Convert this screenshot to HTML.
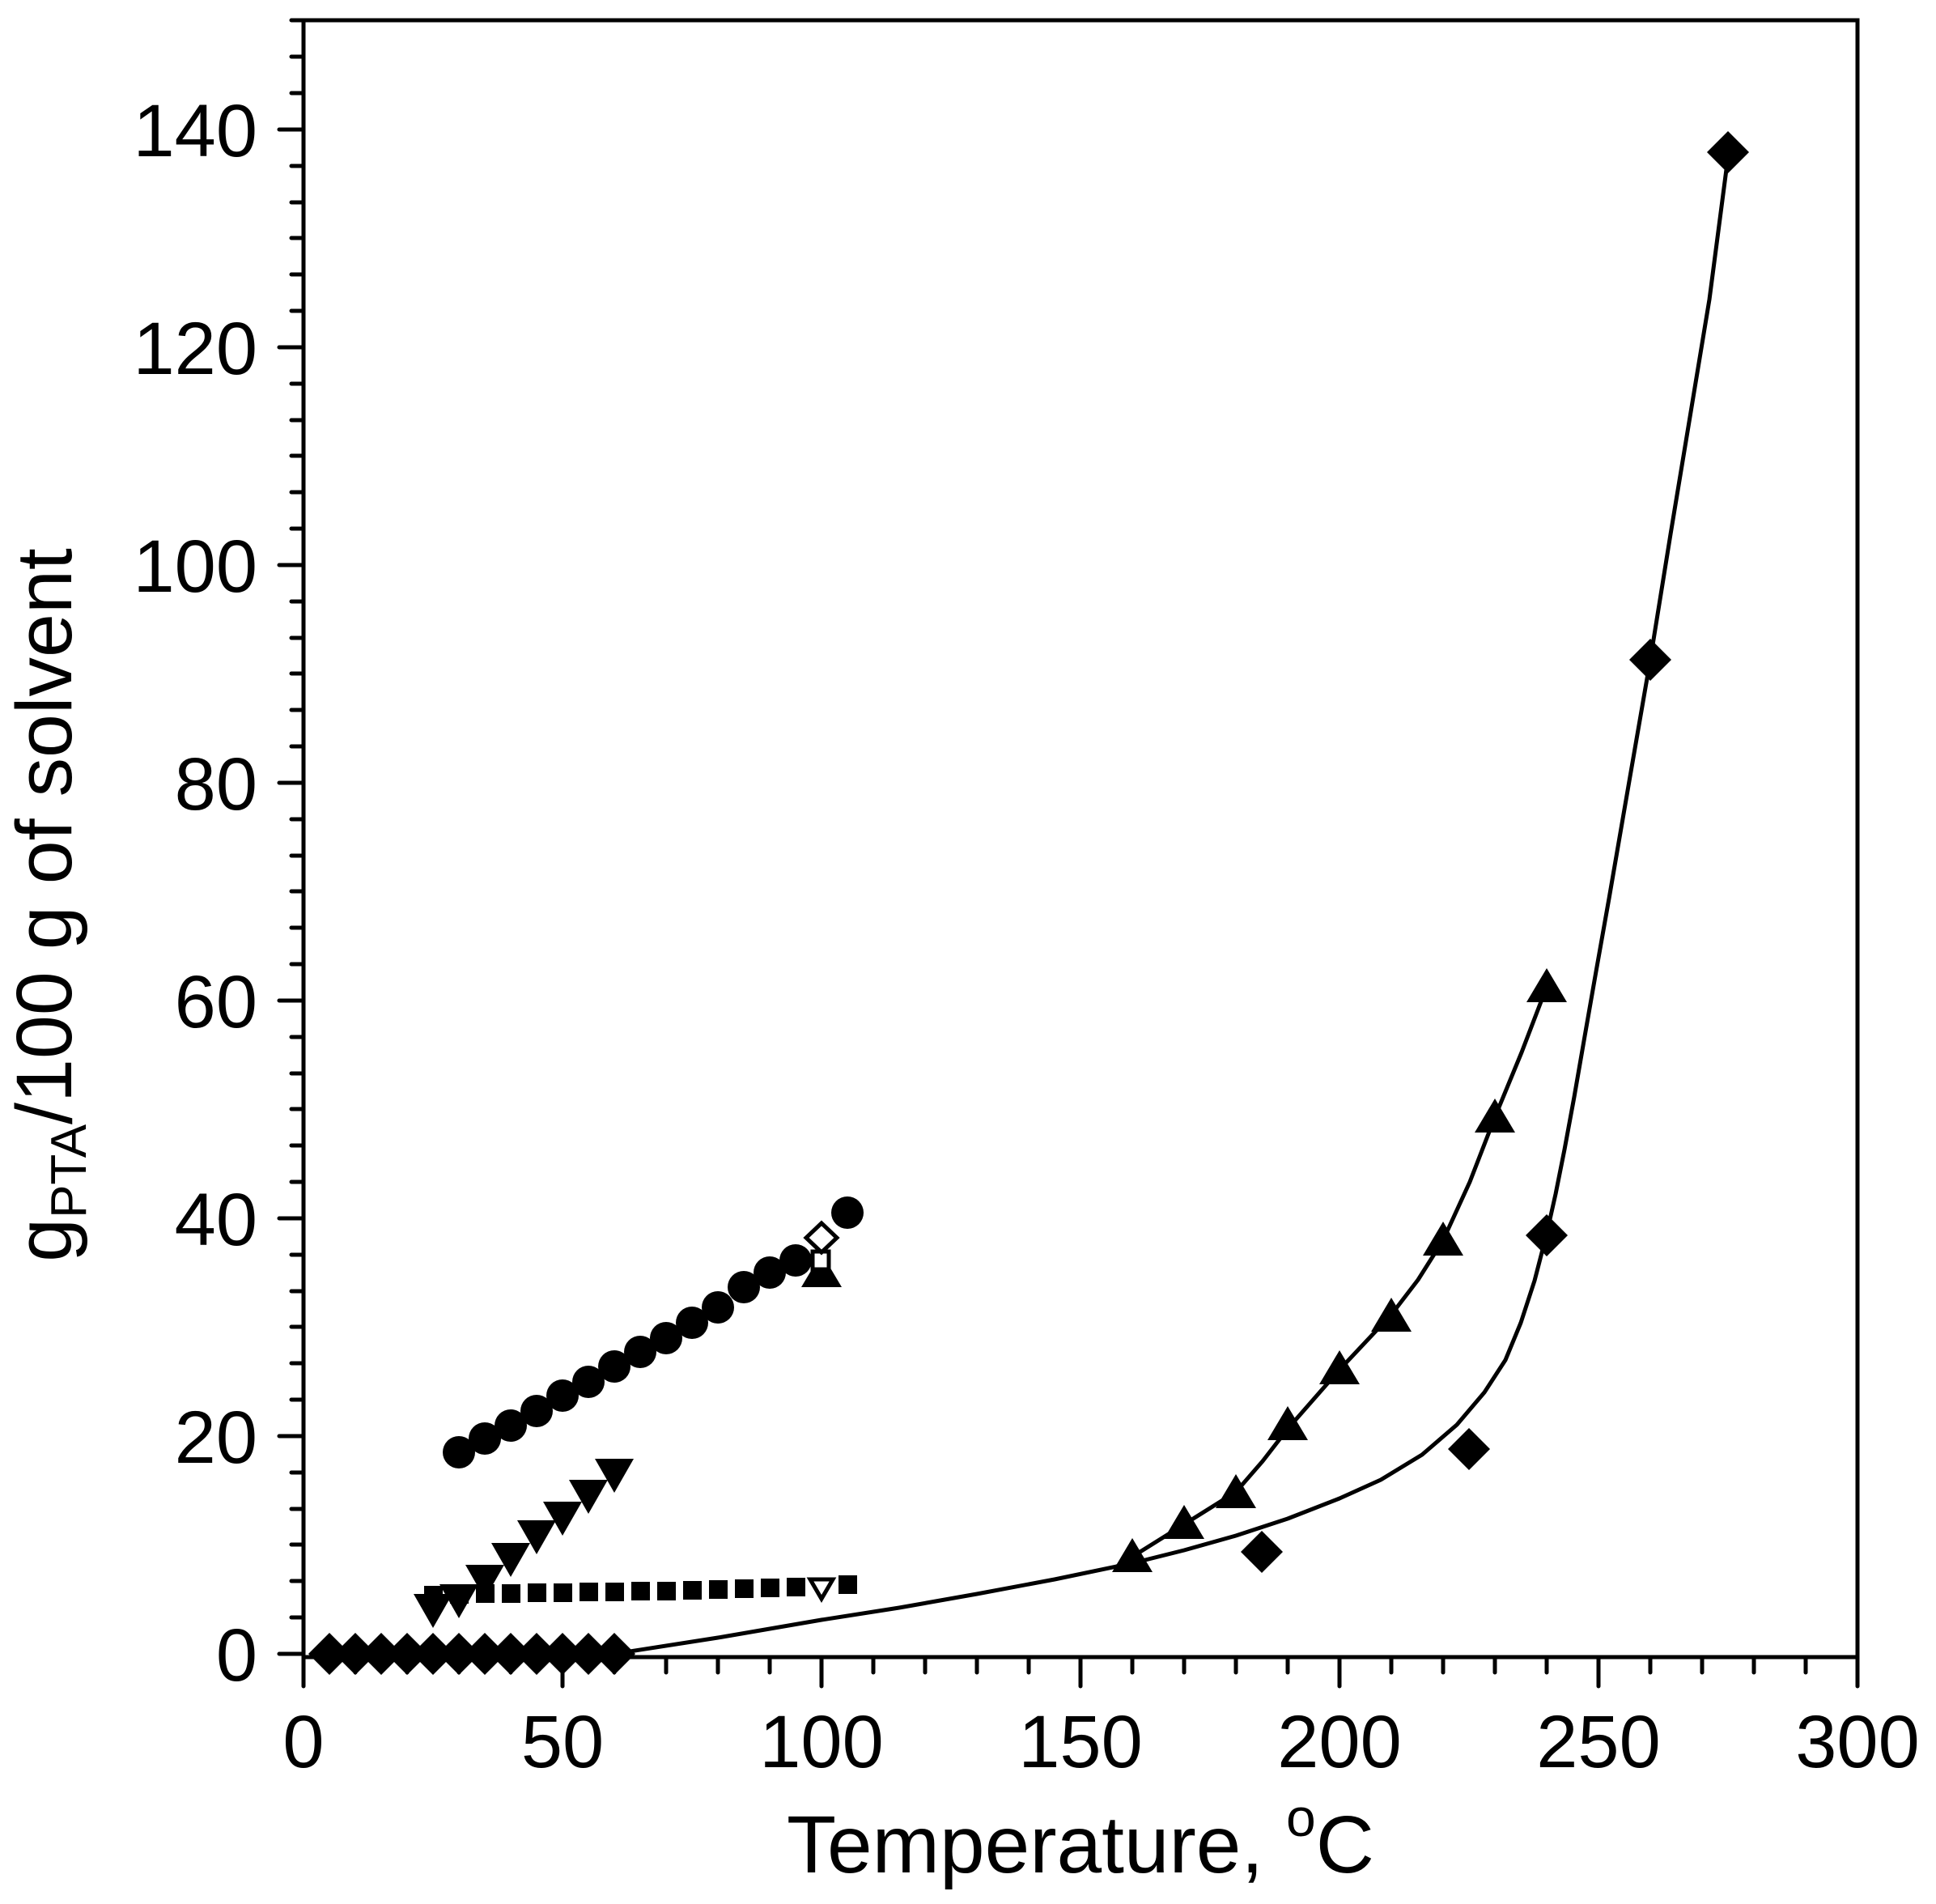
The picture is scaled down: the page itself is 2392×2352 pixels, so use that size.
<!DOCTYPE html>
<html><head><meta charset="utf-8"><style>html,body{margin:0;padding:0;background:#fff}svg{display:block}</style></head>
<body>
<svg width="2392" height="2352" viewBox="0 0 2392 2352" xmlns="http://www.w3.org/2000/svg" font-family="Liberation Sans, Arial, sans-serif">
<defs>
<path id="dm" d="M0,-26 L26,0 L0,26 L-26,0 Z"/>
<path id="tu" d="M0,-23 L25,19 L-25,19 Z"/>
<path id="td" d="M0,23 L24,-19 L-24,-19 Z"/>
</defs>
<rect width="2392" height="2352" fill="#fff"/>
<g stroke="#000" stroke-width="5" fill="none" stroke-linecap="round">
<rect x="375" y="25" width="1920" height="2022"/>
<path d="M345,2043H375M345,1774H375M345,1505H375M345,1236H375M345,967H375M345,698H375M345,429H375M345,160H375"/>
<path d="M360,1998H375M360,1953H375M360,1908H375M360,1864H375M360,1819H375M360,1729H375M360,1684H375M360,1639H375M360,1595H375M360,1550H375M360,1460H375M360,1415H375M360,1370H375M360,1326H375M360,1281H375M360,1191H375M360,1146H375M360,1101H375M360,1057H375M360,1012H375M360,922H375M360,877H375M360,832H375M360,788H375M360,743H375M360,653H375M360,608H375M360,563H375M360,519H375M360,474H375M360,384H375M360,339H375M360,294H375M360,250H375M360,205H375M360,115H375M360,70H375M360,25H375"/>
<path d="M375,2047V2083M695,2047V2083M1015,2047V2083M1335,2047V2083M1655,2047V2083M1975,2047V2083M2295,2047V2083"/>
<path d="M439,2047V2066M503,2047V2066M567,2047V2066M631,2047V2066M759,2047V2066M823,2047V2066M887,2047V2066M951,2047V2066M1079,2047V2066M1143,2047V2066M1207,2047V2066M1271,2047V2066M1399,2047V2066M1463,2047V2066M1527,2047V2066M1591,2047V2066M1719,2047V2066M1783,2047V2066M1847,2047V2066M1911,2047V2066M2039,2047V2066M2103,2047V2066M2167,2047V2066M2231,2047V2066"/>
</g>
<g font-size="92" fill="#000" text-anchor="end">
<text x="318" y="2076">0</text><text x="318" y="1807">20</text><text x="318" y="1538">40</text><text x="318" y="1269">60</text><text x="318" y="1000">80</text><text x="318" y="731">100</text><text x="318" y="462">120</text><text x="318" y="193">140</text>
</g>
<g font-size="92" fill="#000" text-anchor="middle">
<text x="375" y="2183">0</text><text x="695" y="2183">50</text><text x="1015" y="2183">100</text><text x="1335" y="2183">150</text><text x="1655" y="2183">200</text><text x="1975" y="2183">250</text><text x="2295" y="2183">300</text>
</g>
<text x="1335" y="2313" font-size="100" text-anchor="middle">Temperature, <tspan font-size="66" dy="-45">o</tspan><tspan dy="45">C</tspan></text>
<text transform="translate(88,1118) rotate(-90)" font-size="97" text-anchor="middle">g<tspan font-size="62" dy="18">PTA</tspan><tspan dy="-18">/100 g of solvent</tspan></text>
<g stroke="#000" stroke-width="5" fill="none" stroke-linejoin="round">
<path d="M759,2043 L887,2023 L1015,2001 L1111,1986 L1207,1969 L1303,1951 L1399,1931 L1463,1915 L1527,1897 L1591,1876 L1655,1851 L1706,1828 L1757,1797 L1800,1760 L1834,1720 L1860,1680 L1879,1634 L1896,1582 L1911,1524 L1922,1475 L1933,1420 L1945,1355 L1958,1280 L1972,1200 L1988,1110 L2013,965 L2039,815 L2064,660 L2090,503 L2112,370 L2135,194"/>
<path d="M1380,1935 L1399,1923 L1463,1883 L1527,1843 L1560,1805 L1591,1765 L1655,1692 L1719,1624 L1752,1581 L1783,1532 L1816,1460 L1847,1380 L1880,1300 L1911,1219"/>
</g>
<g fill="#000">
<use href="#dm" x="407" y="2043"/><use href="#dm" x="439" y="2043"/><use href="#dm" x="471" y="2043"/><use href="#dm" x="503" y="2043"/><use href="#dm" x="535" y="2043"/><use href="#dm" x="567" y="2043"/><use href="#dm" x="599" y="2043"/><use href="#dm" x="631" y="2043"/><use href="#dm" x="663" y="2043"/><use href="#dm" x="695" y="2043"/><use href="#dm" x="727" y="2043"/><use href="#dm" x="759" y="2043"/>
<use href="#dm" x="1559" y="1917"/><use href="#dm" x="1815" y="1790"/><use href="#dm" x="1911" y="1526"/><use href="#dm" x="2039" y="815"/><use href="#dm" x="2135" y="188"/>
<use href="#tu" x="1399" y="1923"/><use href="#tu" x="1463" y="1882"/><use href="#tu" x="1527" y="1844"/><use href="#tu" x="1591" y="1760"/><use href="#tu" x="1655" y="1691"/><use href="#tu" x="1719" y="1626"/><use href="#tu" x="1783" y="1532"/><use href="#tu" x="1847" y="1380"/><use href="#tu" x="1911" y="1219"/>
<use href="#tu" x="1015" y="1571"/>
<g>
<rect x="524" y="1959" width="23" height="23"/><rect x="556" y="1958" width="23" height="23"/><rect x="588" y="1957" width="23" height="23"/><rect x="620" y="1957" width="23" height="23"/><rect x="652" y="1956" width="23" height="23"/><rect x="684" y="1956" width="23" height="23"/><rect x="716" y="1955" width="23" height="23"/><rect x="748" y="1955" width="23" height="23"/><rect x="780" y="1954" width="23" height="23"/><rect x="812" y="1954" width="23" height="23"/><rect x="844" y="1953" width="23" height="23"/><rect x="876" y="1952" width="23" height="23"/><rect x="908" y="1951" width="23" height="23"/><rect x="940" y="1950" width="23" height="23"/><rect x="972" y="1949" width="23" height="23"/><rect x="1036" y="1946" width="23" height="23"/>
</g>
<use href="#td" x="535" y="1988"/><use href="#td" x="567" y="1976"/><use href="#td" x="599" y="1952"/><use href="#td" x="631" y="1925"/><use href="#td" x="663" y="1897"/><use href="#td" x="695" y="1874"/><use href="#td" x="727" y="1847"/><use href="#td" x="759" y="1821"/>
<circle cx="567" cy="1794" r="20"/><circle cx="599" cy="1777" r="20"/><circle cx="631" cy="1761" r="20"/><circle cx="663" cy="1743" r="20"/><circle cx="695" cy="1724" r="20"/><circle cx="727" cy="1707" r="20"/><circle cx="759" cy="1688" r="20"/><circle cx="791" cy="1670" r="20"/><circle cx="823" cy="1653" r="20"/><circle cx="855" cy="1634" r="20"/><circle cx="887" cy="1615" r="20"/><circle cx="919" cy="1590" r="20"/><circle cx="951" cy="1572" r="20"/><circle cx="983" cy="1557" r="20"/><circle cx="1047" cy="1498" r="20"/>
</g>
<g fill="#fff" stroke="#000" stroke-width="5">
<rect x="1004" y="1546" width="20" height="22"/>
<path d="M1015,1511 L1034,1529 L1015,1547 L996,1529 Z"/>
<path d="M1015,1975 L1029,1951 L1001,1951 Z"/>
</g>
</svg>
</body></html>
